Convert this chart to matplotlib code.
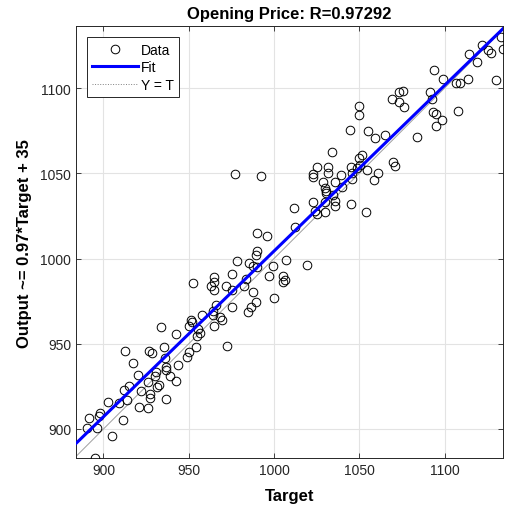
import numpy as np
import matplotlib
matplotlib.use("Agg")
import matplotlib.pyplot as plt
from matplotlib.lines import Line2D

plt.rcParams['font.family'] = ['Liberation Sans', 'DejaVu Sans']

# target / network output pairs
target = [
    912.8, 926.9, 928.7, 935.5, 942.3, 917.5, 936.1, 920.5, 930.8, 930.2,
    936.4, 936.4, 939.2, 943.4, 942.6, 948.8, 950.2, 926.0, 932.6, 931.2,
    915.2, 912.3, 922.0, 927.1, 927.3, 913.7, 936.6, 909.3, 902.5, 921.0,
    926.1, 898.0, 897.2, 891.7, 911.3, 890.3, 896.5, 904.9, 895.2, 933.6,
    951.1, 951.9, 950.2, 955.6, 956.6, 954.7, 954.3, 964.8, 972.3, 966.0,
    964.4, 964.1, 968.6, 969.3, 957.8, 975.3, 989.5, 986.5, 984.5, 1000.2,
    987.5, 975.1, 972.1, 982.4, 952.5, 964.7, 964.8, 963.1, 965.0, 975.2,
    983.6, 997.2, 1005.5, 1006.6, 1005.1, 978.3, 985.3, 989.9, 989.5, 987.7,
    989.9, 999.2, 1007.0, 1019.2, 990.0, 996.1, 977.1, 992.2, 1011.7, 1012.3,
    1022.7, 1023.0, 1031.4, 1039.3, 1045.8, 1045.5, 1061.1, 1058.6, 1054.2, 1025.0,
    1031.8, 1045.1, 1050.4, 1048.9, 1051.4, 1049.6, 1034.2, 1044.3, 1055.3, 1059.2,
    1065.1, 1050.0, 1050.0, 1069.9, 1070.8, 1028.9, 1029.9, 1030.3, 1030.7, 1035.8,
    1039.7, 1034.8, 1035.8, 1035.8, 1022.9, 1029.6, 1045.1, 1024.0, 1025.0, 1029.9,
    1053.9, 1069.0, 1073.4, 1075.3, 1073.3, 1076.0, 1091.4, 1092.4, 1093.4, 1095.1,
    1098.3, 1095.1, 1107.7, 1083.6, 1094.0, 1099.1, 1106.4, 1109.0, 1113.9, 1130.1,
    1114.3, 1118.8, 1121.7, 1125.6, 1127.1, 1133.1, 1134.4,
]
output = [
    945.6, 945.6, 944.6, 948.3, 955.7, 939.0, 941.8, 931.7, 933.3, 931.3,
    936.1, 934.4, 930.9, 937.8, 927.9, 942.1, 945.0, 927.4, 925.7, 924.5,
    925.0, 923.0, 922.5, 920.4, 918.3, 917.1, 917.6, 915.2, 915.7, 912.9,
    912.1, 909.1, 907.9, 906.5, 905.4, 900.6, 900.4, 895.9, 883.2, 960.1,
    963.9, 962.5, 960.4, 958.7, 956.1, 954.7, 948.1, 960.7, 948.5, 972.7,
    969.4, 966.9, 965.4, 964.2, 966.7, 971.6, 974.5, 971.7, 968.6, 977.0,
    980.6, 981.5, 984.0, 984.0, 985.5, 989.4, 986.0, 984.0, 981.8, 990.7,
    988.0, 989.7, 989.7, 987.2, 986.0, 998.5, 997.2, 1004.4, 1002.1, 995.8,
    995.0, 995.6, 999.1, 996.0, 1014.8, 1013.2, 1049.7, 1048.4, 1029.4, 1018.3,
    1049.6, 1048.1, 1050.0, 1048.7, 1050.0, 1046.9, 1050.3, 1045.9, 1051.9, 1053.8,
    1053.7, 1053.8, 1054.8, 1052.9, 1061.0, 1058.8, 1062.3, 1075.5, 1074.6, 1070.7,
    1072.6, 1089.2, 1084.0, 1056.9, 1054.4, 1044.9, 1041.5, 1039.8, 1038.4, 1044.7,
    1041.8, 1037.1, 1033.9, 1030.6, 1033.0, 1033.0, 1032.1, 1027.6, 1026.4, 1027.3,
    1027.4, 1093.5, 1097.7, 1098.2, 1092.1, 1088.7, 1097.8, 1093.4, 1085.9, 1084.9,
    1081.1, 1077.6, 1086.5, 1071.0, 1110.4, 1105.4, 1102.9, 1102.8, 1105.4, 1105.0,
    1119.8, 1115.4, 1125.3, 1122.1, 1120.4, 1130.2, 1122.7,
]

title_text = 'Opening Price: R=0.97292'
ylabel_text = 'Output ~= 0.97*Target + 35'
xlabel_text = 'Target'
x_ticks = [900, 950, 1000, 1050, 1100]
y_ticks = [900, 950, 1000, 1050, 1100]

t = np.array(target)
y = np.array(output)
slope, intercept = np.polyfit(t, y, 1)

fig = plt.figure(figsize=(5.05, 5.10), dpi=100)
ax = fig.add_axes([0.1505, 0.0994, 0.8455, 0.847])

xlim = (883.9, 1134.2)
ylim = (882.8, 1136.2)

ax.plot(t, y, 'o', mfc='none', mec='black', ms=6.2, mew=0.7, zorder=3)
xs = np.array(xlim)
ax.plot(xs, slope * xs + intercept, color='#0000ff', lw=2.2, zorder=4)
# identity line: thin solid-looking gray in the axes, dotted in the legend
ax.plot(xs, xs, '-', color='#a0a0a0', lw=0.7, zorder=2)

ax.set_xlim(xlim)
ax.set_ylim(ylim)
ax.set_xticks(x_ticks)
ax.set_yticks(y_ticks)
ax.grid(True, color='#e3e3e3', lw=0.8)
ax.set_axisbelow(True)
ax.tick_params(direction='in', length=3.5, width=0.6, labelsize=10,
               top=True, right=True, colors='#262626', labelcolor='#262626')
for s in ax.spines.values():
    s.set_color('#262626')
    s.set_linewidth(0.7)

ax.set_title(title_text, fontsize=12, fontweight='bold', pad=6)
ax.set_xlabel(xlabel_text, fontsize=12, fontweight='bold', labelpad=8)
ax.set_ylabel(ylabel_text, fontsize=12, fontweight='bold', labelpad=6)

handles = [
    Line2D([], [], ls='none', marker='o', mfc='none', mec='black', ms=6.2, mew=0.7),
    Line2D([], [], color='#0000ff', lw=2.2),
    Line2D([], [], ls=':', color='#808080', lw=0.7),
]
leg = ax.legend(handles, ['Data', 'Fit', 'Y = T'], loc='upper left',
                bbox_to_anchor=(0.025, 0.975), fontsize=10,
                fancybox=False, framealpha=1, edgecolor='#262626',
                handlelength=3.3, handletextpad=0.2, borderpad=0.4,
                labelspacing=0.25, borderaxespad=0)
leg.get_frame().set_linewidth(0.7)

fig.savefig('out.png', dpi=100)
